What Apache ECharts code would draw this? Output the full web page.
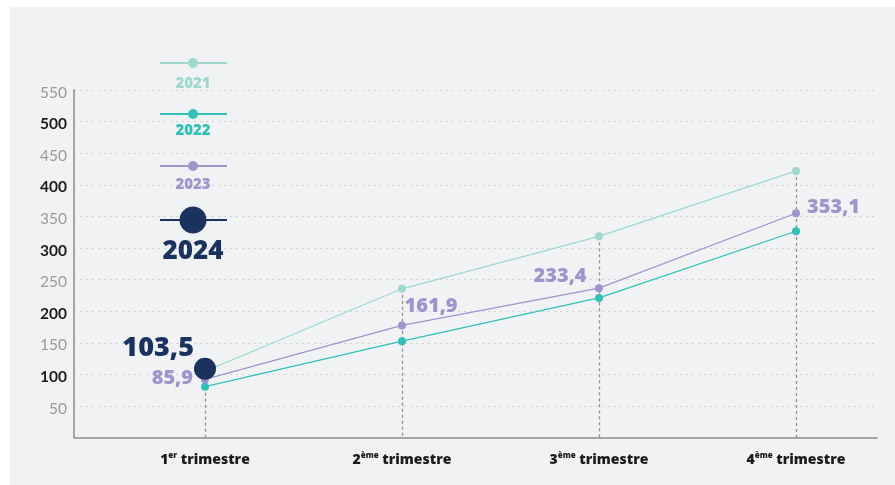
<!DOCTYPE html>
<html><head><meta charset="utf-8">
<script src="https://cdn.jsdelivr.net/npm/echarts@6/dist/echarts.min.js"></script>
<style>html,body{margin:0;padding:0;background:#fff}#c{width:895px;height:485px}</style>
</head><body><div id="c"></div>
<script>
// ---- data ----
const categories = ['1er trimestre', '2ème trimestre', '3ème trimestre', '4ème trimestre'];
const years = ['2021', '2022', '2023', '2024'];
const values2021 = [105, 235.5, 318.5, 422];
const values2022 = [80.5, 152.5, 221, 326.5];
const values2023 = [92, 177.5, 236.5, 355];
const values2024 = [109, null, null, null];
const labels2023 = ['85,9', '161,9', '233,4', '353,1'];
const labels2024 = ['103,5', null, null, null];
const yTicks = [50, 100, 150, 200, 250, 300, 350, 400, 450, 500, 550];

// ---- styles ----
const colors = { '2021': '#9fd9ce', '2022': '#33c0b7', '2023': '#a194cb', '2024': '#1b325f' };
const FONT = 'Lato, "Open Sans", sans-serif';
const BFONT = '"Open Sans", Lato, sans-serif';
const chart = echarts.init(document.getElementById('c'));

const allSeries = [values2021, values2022, values2023, values2024];
const tops = categories.map((c, i) => Math.max(...allSeries.map(s => s[i] == null ? -Infinity : s[i])));

const label2023Pos = [
  { position: 'left', offset: [-3, -1] },
  { position: 'top', offset: [29, 0] },
  { position: 'top', offset: [-39, 7] },
  { position: 'right', offset: [2, -6] }
];

const gridA = { left: 74, right: 18, top: 90, bottom: 47.4 };
const gridB = { left: 106.5, width: 788, top: 90, bottom: 47.4 };

const legendGraphics = [];
const legendY = { '2021': 63, '2022': 114, '2023': 166, '2024': 220 };
const legendTextY = { '2021': 84, '2022': 131, '2023': 185, '2024': 252 };
years.forEach(y => {
  const big = y === '2024';
  legendGraphics.push({ type: 'line', z: 100, shape: { x1: 160, y1: legendY[y], x2: 227, y2: legendY[y] }, style: { stroke: colors[y], lineWidth: 2 } });
  legendGraphics.push({ type: 'circle', z: 101, shape: { cx: 193, cy: legendY[y], r: big ? 13.5 : 5 }, style: { fill: colors[y] } });
  legendGraphics.push({ type: 'text', z: 101, x: 193, y: legendTextY[y], style: { text: y, fill: colors[y], font: (big ? '800 26px ' : '800 15px ') + BFONT, align: 'center', verticalAlign: 'middle' } });
});

const option = {
  animation: false,
  graphic: [
    { type: 'rect', z: -10, shape: { x: 10, y: 7, width: 885, height: 478 }, style: { fill: '#f0f2f4' } },
    ...legendGraphics
  ],
  grid: [gridA, gridB],
  xAxis: [
    { type: 'value', gridIndex: 0, min: 0, max: 1, offset: 3,
      axisLine: { show: true, lineStyle: { color: '#8c8c8c', width: 1.5 } },
      axisTick: { show: false }, axisLabel: { show: false }, splitLine: { show: false } },
    { type: 'category', gridIndex: 1, data: categories, boundaryGap: true,
      axisLine: { show: false }, axisTick: { show: false }, splitLine: { show: false },
      axisLabel: {
        margin: 14,
        formatter: (v) => { const m = v.match(/^(\d)(\S+) (.*)$/); return '{n|' + m[1] + '}{s|' + m[2] + '}{n| ' + m[3] + '}'; },
        rich: {
          n: { fontFamily: BFONT, fontWeight: 800, fontSize: 14, color: '#1c1c1c', lineHeight: 16 },
          s: { fontFamily: BFONT, fontWeight: 800, fontSize: 8, color: '#1c1c1c', lineHeight: 9, verticalAlign: 'top' }
        }
      } }
  ],
  yAxis: [
    { type: 'value', gridIndex: 0, min: 0, max: 550, interval: 50,
      axisLine: { show: true, lineStyle: { color: '#8c8c8c', width: 1.5 } },
      axisTick: { show: false },
      splitLine: { show: true, lineStyle: { color: ['transparent'].concat(yTicks.map(() => '#cfd1d4')), type: [2, 4], width: 1 } },
      axisLabel: {
        margin: 7,
        padding: [5, 0, 0, 0],
        formatter: (v) => v === 0 ? '' : (v % 100 === 0 ? '{b|' + v + '}' : '{g|' + v + '}'),
        rich: {
          b: { fontFamily: FONT, fontWeight: 'bold', fontSize: 15.5, color: '#1c1c1c' },
          g: { fontFamily: FONT, fontWeight: 'normal', fontSize: 15.5, color: '#9a9a9a' }
        }
      } },
    { type: 'value', gridIndex: 1, min: 0, max: 550, show: false, splitLine: { show: false } }
  ],
  series: [
    { name: '2021', type: 'line', xAxisIndex: 1, yAxisIndex: 1, data: values2021, z: 3,
      symbol: 'circle', symbolSize: 8, itemStyle: { color: colors['2021'] }, lineStyle: { color: colors['2021'], width: 1.3 },
      markLine: { silent: true, symbol: ['none', 'none'], z: 1, label: { show: false }, animation: false,
        lineStyle: { color: '#8f8f8f', type: [3, 3], width: 1.3 },
        data: categories.map((c, i) => [{ coord: [i, tops[i]] }, { coord: [i, 0] }]) } },
    { name: '2022', type: 'line', xAxisIndex: 1, yAxisIndex: 1, data: values2022, z: 4,
      symbol: 'circle', symbolSize: 8, itemStyle: { color: colors['2022'] }, lineStyle: { color: colors['2022'], width: 1.3 } },
    { name: '2023', type: 'line', xAxisIndex: 1, yAxisIndex: 1, z: 5,
      data: values2023.map((v, i) => ({ value: v, label: Object.assign({ show: true, distance: 5 }, label2023Pos[i]) })),
      symbol: 'circle', symbolSize: 8, itemStyle: { color: colors['2023'] }, lineStyle: { color: colors['2023'], width: 1.3 },
      label: { formatter: (p) => labels2023[p.dataIndex], fontFamily: BFONT, fontWeight: 800, fontSize: 20, color: colors['2023'] } },
    { name: '2024', type: 'line', xAxisIndex: 1, yAxisIndex: 1, z: 6,
      data: values2024, symbol: 'circle', symbolSize: 22, itemStyle: { color: colors['2024'] },
      label: { show: true, position: 'left', distance: 5, offset: [5, -20], formatter: (p) => labels2024[p.dataIndex] || '',
        fontFamily: BFONT, fontWeight: 800, fontSize: 27, color: colors['2024'] } }
  ]
};
chart.setOption(option);
</script></body></html>
